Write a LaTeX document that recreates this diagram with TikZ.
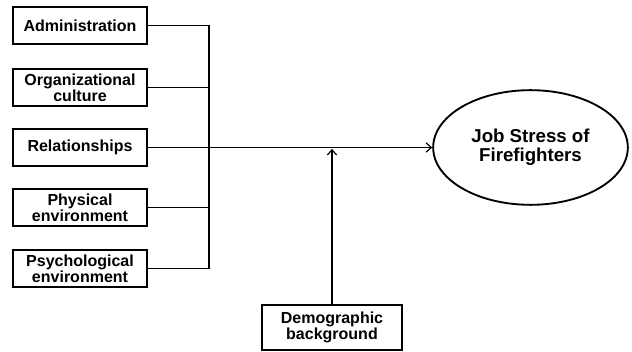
\documentclass[tikz,border=0pt]{standalone}
\usepackage{fontspec}
\setmainfont{Liberation Sans}
\usetikzlibrary{shapes.geometric, arrows.meta}
\begin{document}
\begin{tikzpicture}[x=0.75pt, y=-0.75pt,
    factor/.style={draw, line width=1.4pt, minimum width=100.5pt, minimum height=28pt,
        inner sep=1pt, align=center, font=\bfseries\fontsize{12}{10.5}\selectfont},
    outcome/.style={draw, ellipse, line width=1.4pt, minimum width=146pt, minimum height=86pt,
        inner sep=0pt, align=center, font=\bfseries\fontsize{14}{14.5}\selectfont},
    link/.style={line width=0.9pt},
    >={Straight Barb[length=4pt, width=7pt]}]
    \useasboundingbox (0,0) rectangle (632,352);

    \node[factor] (adm) at (80, 25.5) {Administration};
    \node[factor] (org) at (80, 87.5) {Organizational\\culture};
    \node[factor] (rel) at (80, 147.5) {Relationships};
    \node[factor] (phy) at (80, 207.5) {Physical\\environment};
    \node[factor] (psy) at (80, 268.5) {Psychological\\environment};
    \node[outcome] (job) at (530.5, 147.5) {Job Stress of\\Firefighters};
    \node[factor, minimum width=105pt, minimum height=34pt] (demo) at (332, 327.5)
        {Demographic\\background};

    \coordinate (bus) at (209, 0);

    \draw[link] (adm.east) -- (adm.east -| bus) -- (psy.east -| bus) -- (psy.east);
    \draw[link] (org.east) -- (org.east -| bus);
    \draw[link] (phy.east) -- (phy.east -| bus);
    \draw[link, ->] (rel.east) -- (job.west);
    \draw[link, ->] (demo.north) -- ([yshift=-1pt]demo.north |- rel.east);
\end{tikzpicture}
\end{document}
